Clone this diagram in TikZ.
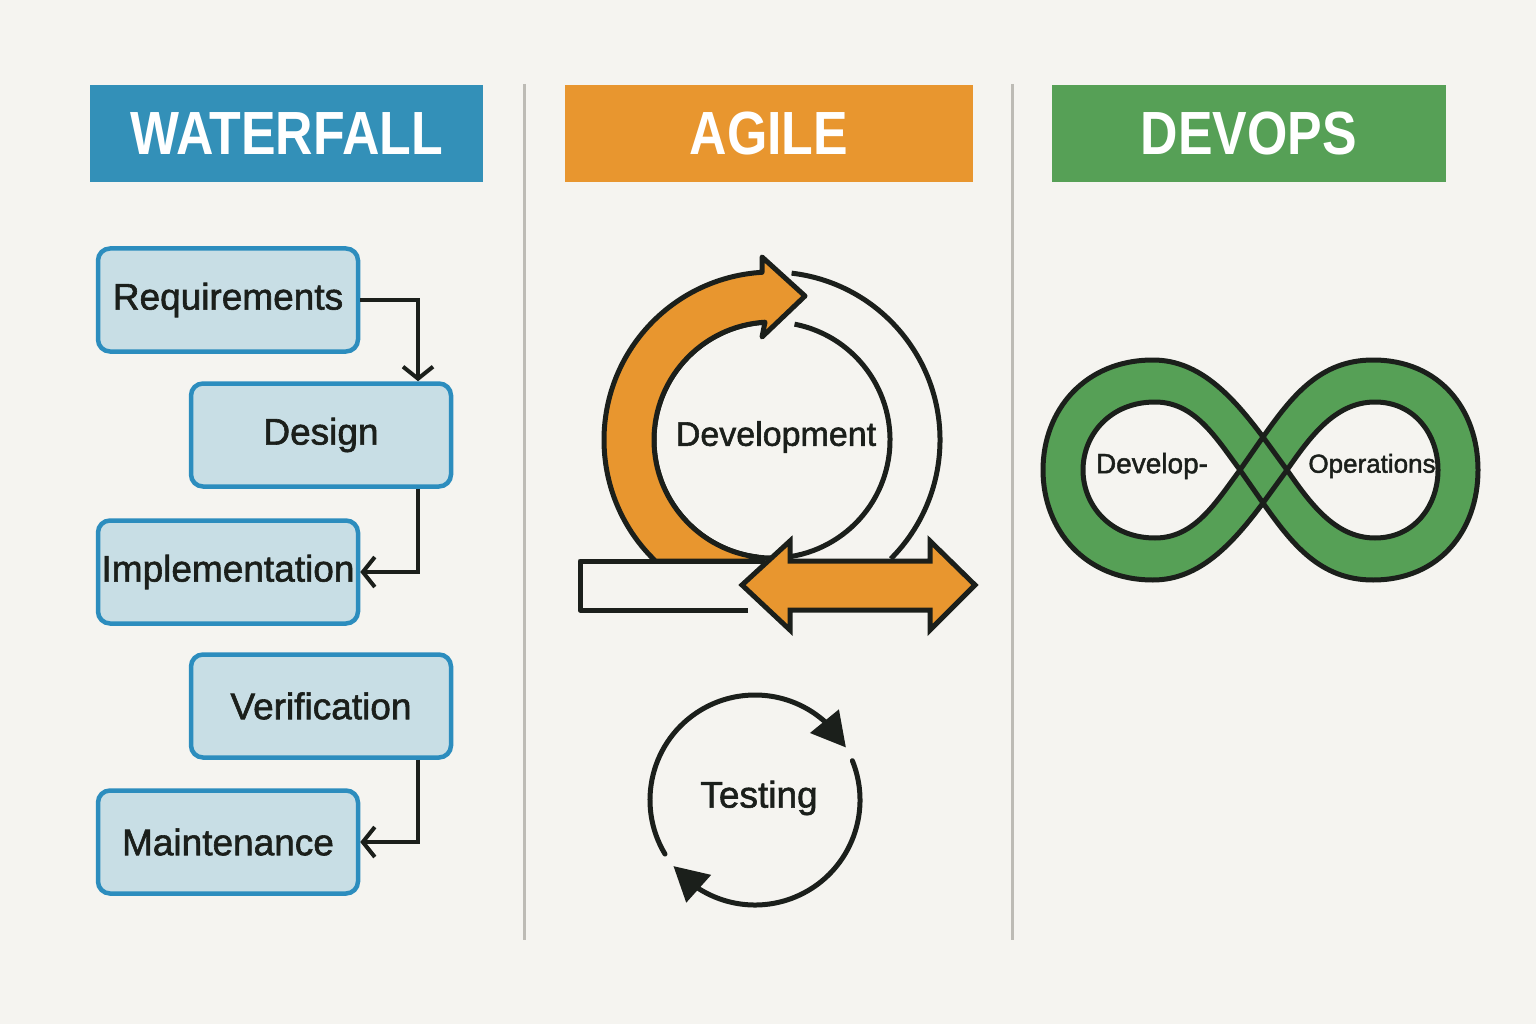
\documentclass[tikz,border=0pt]{standalone}
\usepackage{fontspec}
\setmainfont{Liberation Sans}
\newfontfamily\hdfont[FakeStretch=0.85]{Liberation Sans}
\newfontfamily\lbfont[FakeBold=1.6]{Liberation Sans}
\usepackage{xcolor}
\usetikzlibrary{arrows.meta, bending}

\definecolor{paper}{HTML}{F5F4F0}
\definecolor{wfblue}{HTML}{3390B8}
\definecolor{wfline}{HTML}{2C8DBE}
\definecolor{wffill}{HTML}{C8DEE5}
\definecolor{agorange}{HTML}{E8962F}
\definecolor{dogreen}{HTML}{56A056}
\definecolor{ink}{HTML}{1B1F1B}
\definecolor{rulegray}{HTML}{BDBBB5}

\begin{document}
\begin{tikzpicture}[x=1pt, y=-1pt,
        HB/.style = {fill=#1, minimum height=97pt, inner sep=0pt, text=white,
                     font=\hdfont\bfseries\fontsize{61}{61}\selectfont},
        WB/.style = {draw=wfline, fill=wffill, line width=4.5pt, rounded corners=12pt,
                     minimum width=260pt, minimum height=103pt, inner sep=0pt,
                     text=ink, font=\lbfont\fontsize{37}{40}\selectfont},
        LB/.style = {text=ink, font=\lbfont\fontsize{#1}{#1}\selectfont},
        FL/.style = {draw=ink, line width=4pt, -{Straight Barb[length=12pt, width=30pt]}},
        OL/.style = {draw=ink, line width=5pt, line join=round},
        TA/.style = {OL, line cap=round, -{Triangle[length=34pt, width=36pt]}},
        SEP/.style = {draw=rulegray, line width=3pt} ]

   \fill[paper] (0,0) rectangle (1536,1024);
   \useasboundingbox (0,0) rectangle (1536,1024);

   \draw[SEP] (524,84) -- (524,940);
   \draw[SEP] (1012,84) -- (1012,940);

   \node (wf) at (286.5,133.5) [HB=wfblue, minimum width=393pt] {WATERFALL};
   \node (ag) at (769,133.5)   [HB=agorange, minimum width=408pt] {AGILE};
   \node (do) at (1249,133.5)  [HB=dogreen, minimum width=394pt] {DEVOPS};

   % waterfall
   \node (req) at (228,300) [WB] {Requirements};
   \node (des) at (321,435) [WB] {Design};
   \node (imp) at (228,572) [WB] {Implementation};
   \node (ver) at (321,706) [WB] {Verification};
   \node (mnt) at (228,842) [WB] {Maintenance};
   \coordinate (wfx) at (418,0);
   \draw[FL] (req.east) -| (des.north -| wfx);
   \draw[FL] (des.south -| wfx) |- (imp.east);
   \draw[FL] (ver.south -| wfx) |- (mnt.east);

   % agile
   \begin{scope}[shift={(772,440)}]
     \draw[OL] (276.7:168) arc[start angle=276.7, end angle=405, radius=168];
     \draw[OL] (281:118) arc[start angle=281, end angle=626.6, radius=118];
     \filldraw[OL, fill=agorange] (133.9:168) arc[start angle=133.9, end angle=266.6, radius=168]
        -- (-10,-183) -- (33,-144) -- (-10,-103) -- (266.6:118)
        arc[start angle=266.6, end angle=97, radius=118] -- (-15,121) -- cycle;
   \end{scope}
   \draw[OL] (748,610) -- (580,610) -- (580,561) -- (765,561);
   \filldraw[OL, fill=agorange, line join=miter] (742,585) -- (790,541) -- (790,561) -- (930,561)
      -- (930,541) -- (975,585) -- (930,630) -- (930,610) -- (790,610) -- (790,630) -- cycle;
   \node (dev) at (776,437) [LB=34] {Development};

   \begin{scope}[shift={(755,800)}]
     \draw[TA] (149:105) arc[start angle=149, end angle=330, radius=105];
     \draw[TA] (338:105) arc[start angle=338, end angle=501, radius=105];
   \end{scope}
   \node (tst) at (759,798) [LB=37] {Testing};

   % devops
   \coordinate (tv) at (1263,437);
   \coordinate (bv) at (1263,503);
   \coordinate (lv) at (1240,470);
   \coordinate (rv) at (1287,470);
   \def\lobeL{(rv) -- (tv) .. controls (1233,397) and (1200,360) .. (1153,360)
      .. controls (1085,360) and (1043,410) .. (1043,470)
      .. controls (1043,530) and (1085,580) .. (1153,580)
      .. controls (1200,580) and (1233,543) .. (bv) -- cycle}
   \def\lobeR{(lv) -- (tv) .. controls (1292,396) and (1320,360) .. (1373,360)
      .. controls (1440,360) and (1478,410) .. (1478,470)
      .. controls (1478,530) and (1440,580) .. (1373,580)
      .. controls (1320,580) and (1292,544) .. (bv) -- cycle}
   \def\holeL{(lv) .. controls (1216,438) and (1195,402) .. (1155,402)
      .. controls (1110,402) and (1083,435) .. (1083,470)
      .. controls (1083,505) and (1110,538) .. (1155,538)
      .. controls (1195,538) and (1216,502) .. cycle}
   \def\holeR{(rv) .. controls (1310,437) and (1335,402) .. (1375,402)
      .. controls (1415,402) and (1438,435) .. (1438,470)
      .. controls (1438,505) and (1415,538) .. (1375,538)
      .. controls (1335,538) and (1310,503) .. cycle}
   \fill[dogreen] \lobeL;
   \fill[dogreen] \lobeR;
   \fill[paper] \holeL;
   \fill[paper] \holeR;
   \draw[OL] \lobeL \lobeR \holeL \holeR;
   \node (dvl) at (1152,466) [LB=28] {Develop-};
   \node (ops) at (1372,466) [LB=26] {Operations};
\end{tikzpicture}
\end{document}
